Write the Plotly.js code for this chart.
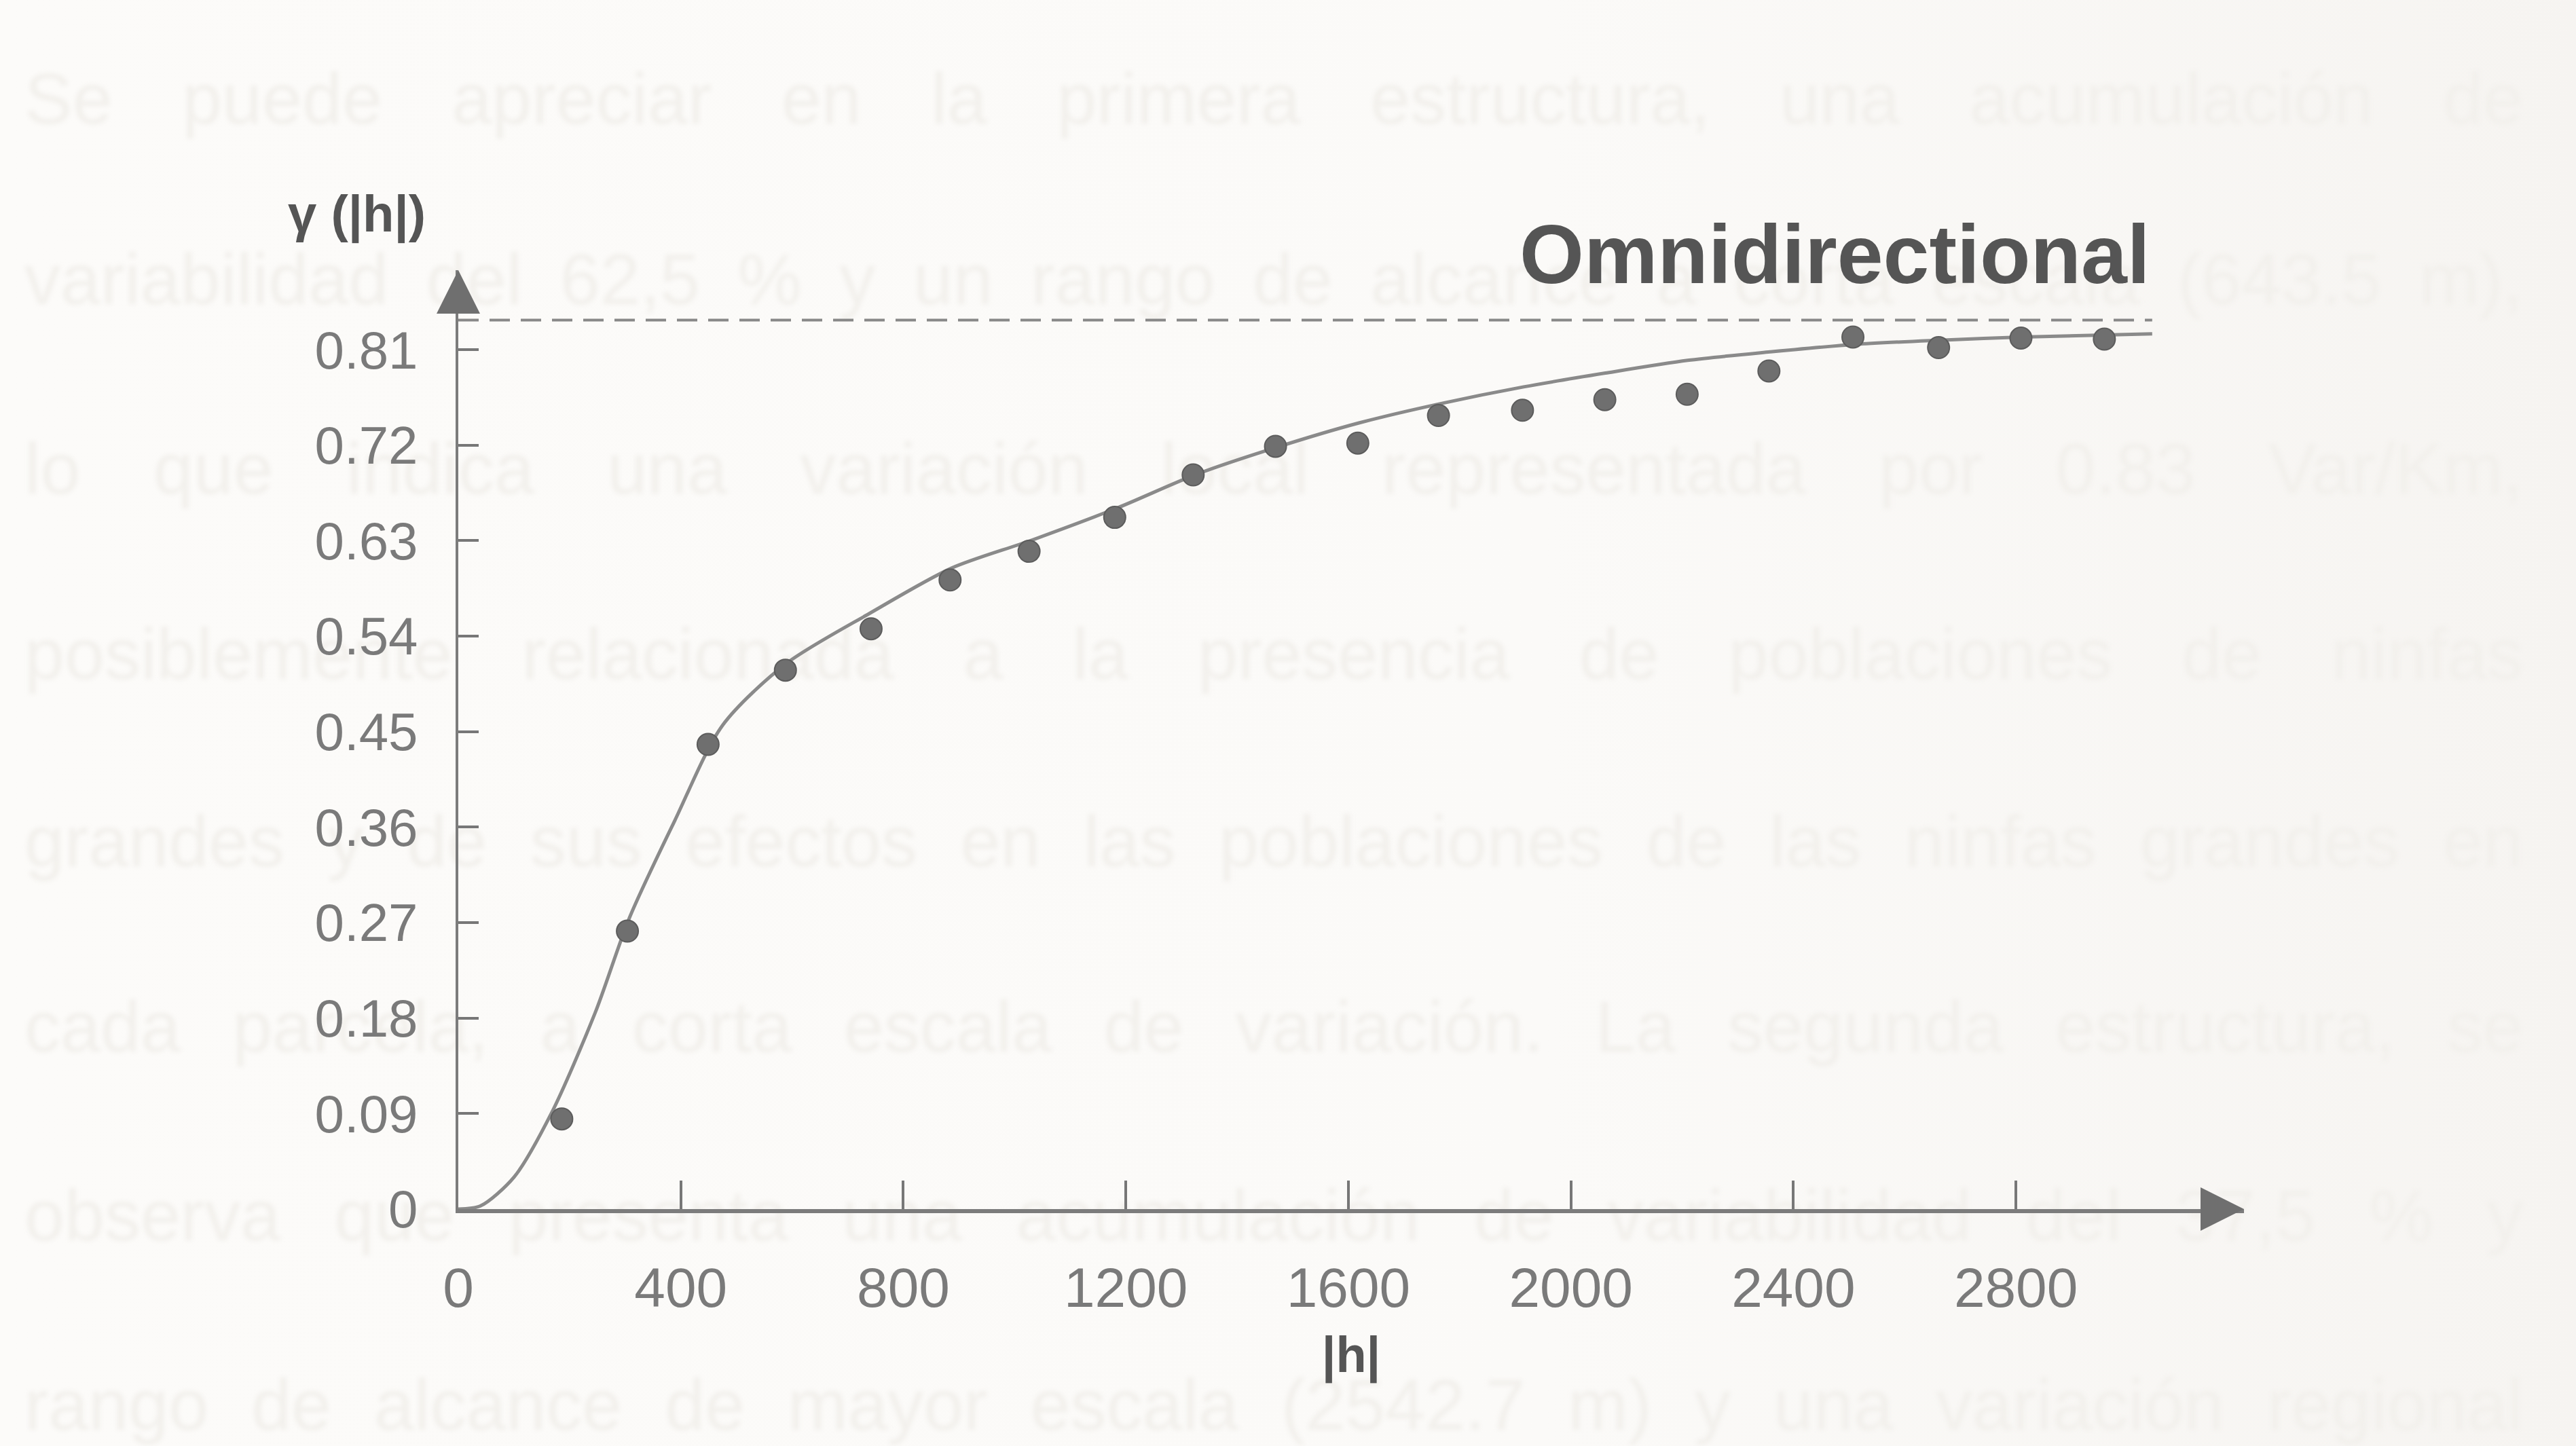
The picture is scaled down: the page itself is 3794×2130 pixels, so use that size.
<!DOCTYPE html>
<html>
<head>
<meta charset="utf-8">
<script src="https://cdn.plot.ly/plotly-3.0.1.min.js"></script>
<style>
  html, body { margin: 0; padding: 0; width: 3794px; height: 2130px; overflow: hidden;
    background: linear-gradient(90deg, #fcfbf9 0%, #fbfaf8 60%, #f6f4f1 100%); }
  #bg { position: absolute; left: 0; top: 0; width: 3794px; height: 2130px; z-index: 0; }
  .ln { position: absolute; left: 36px; width: 3680px; font-family: "Liberation Sans", Arial, sans-serif;
        font-size: 106px; line-height: 120px; color: #f2f0ec; text-align: justify; text-align-last: justify;
        white-space: nowrap; filter: blur(3px); }
  #chart { position: absolute; left: 0; top: 0; width: 3794px; height: 2130px; z-index: 1; }
</style>
</head>
<body>
<div id="bg"></div>
<div id="chart"></div>
<script>
// ---- data ----
const lagH = [186, 304, 449, 588, 742, 884, 1026, 1180, 1321, 1469, 1617, 1762, 1913, 2061, 2209, 2356, 2507, 2661, 2809, 2959];
const gammaExp = [0.085, 0.262, 0.438, 0.508, 0.547, 0.593, 0.620, 0.652, 0.692, 0.719, 0.722, 0.748, 0.753, 0.763, 0.768, 0.790, 0.822, 0.812, 0.821, 0.820];

const modelH = [0, 40, 100, 167, 246, 308, 389, 475, 589, 741, 886, 1028, 1185, 1324, 1471, 1619, 1764, 1915, 2062, 2210, 2358, 2508, 2662, 2810, 3045];
const modelGamma = [0, 0.003, 0.030, 0.090, 0.185, 0.275, 0.366, 0.456, 0.514, 0.562, 0.604, 0.630, 0.661, 0.692, 0.718, 0.741, 0.759, 0.775, 0.788, 0.800, 0.808, 0.815, 0.819, 0.822, 0.825];

const sillH = [0, 3045];
const sillValue = 0.838;

const yTicks = [0, 0.09, 0.18, 0.27, 0.36, 0.45, 0.54, 0.63, 0.72, 0.81];
const yTickText = ["0", "0.09", "0.18", "0.27", "0.36", "0.45", "0.54", "0.63", "0.72", "0.81"];
const xTicks = [0, 400, 800, 1200, 1600, 2000, 2400, 2800];
const xTickText = ["0", "400", "800", "1200", "1600", "2000", "2400", "2800"];

const titleText = "Omnidirectional";
const yTitle = "γ (|h|)";
const xTitle = "|h|";

const pageLines = [
  "Se puede apreciar en la primera estructura, una acumulación de",
  "variabilidad del 62,5 % y un rango de alcance a corta escala (643.5 m),",
  "lo que indica una variación local representada por 0.83 Var/Km,",
  "posiblemente relacionada a la presencia de poblaciones de ninfas",
  "grandes y de sus efectos en las poblaciones de las ninfas grandes en",
  "cada parcela, a corta escala de variación. La segunda estructura, se",
  "observa que presenta una acumulación de variabilidad del 37,5 % y",
  "rango de alcance de mayor escala (2542.7 m) y una variación regional"
];
const pageLineCenters = [145, 411, 690, 963, 1239, 1512, 1790, 2069];

// faint bleed-through page text
const bg = document.getElementById('bg');
pageLines.forEach((t, i) => {
  const d = document.createElement('div');
  d.className = 'ln';
  d.style.top = (pageLineCenters[i] - 60) + 'px';
  d.textContent = t;
  bg.appendChild(d);
});

const grey = '#7a7a7a';
const font = "Liberation Sans, Arial, sans-serif";

const traces = [
  {
    x: sillH, y: [sillValue, sillValue], mode: 'lines', type: 'scatter',
    line: { color: '#888', width: 4, dash: '30px,16px' }, hoverinfo: 'skip', showlegend: false
  },
  {
    x: modelH, y: modelGamma, mode: 'lines', type: 'scatter',
    line: { color: '#8a8a8a', width: 5, shape: 'spline', smoothing: 0.8 }, showlegend: false
  },
  {
    x: lagH, y: gammaExp, mode: 'markers', type: 'scatter',
    marker: { color: '#6f6f6f', size: 32, line: { color: '#5c5c5c', width: 2 } }, showlegend: false
  }
];

const layout = {
  width: 3794, height: 2130,
  margin: { l: 675, r: 489, t: 398, b: 349 },
  paper_bgcolor: 'rgba(0,0,0,0)',
  plot_bgcolor: 'rgba(0,0,0,0)',
  showlegend: false,
  xaxis: {
    range: [0, 3210], showgrid: false, zeroline: false,
    showline: true, linecolor: '#7c7c7c', linewidth: 6,
    ticks: 'inside', ticklen: 42, tickwidth: 4, tickcolor: '#777',
    tickvals: xTicks, ticktext: xTickText,
    tickfont: { family: font, size: 82, color: grey },
    ticklabelstandoff: 40,
    title: { text: '<b>' + xTitle + '</b>', font: { family: font, size: 74, color: '#555' }, standoff: 30 }
  },
  yaxis: {
    range: [0, 0.885], showgrid: false, zeroline: false,
    showline: true, linecolor: '#7c7c7c', linewidth: 4,
    ticks: 'inside', ticklen: 30, tickwidth: 4, tickcolor: '#777',
    tickvals: yTicks, ticktext: yTickText,
    tickfont: { family: font, size: 78, color: grey },
    ticklabelstandoff: 40
  },
  annotations: [
    { text: '<b>' + titleText + '</b>', x: 0.771, y: 1.0166, xref: 'paper', yref: 'paper',
      xanchor: 'center', yanchor: 'middle',
      showarrow: false, font: { family: font, size: 122, color: '#555' } },
    { text: '<b>' + yTitle + '</b>', x: -0.057, y: 1.060, xref: 'paper', yref: 'paper',
      xanchor: 'center', yanchor: 'middle',
      showarrow: false, font: { family: font, size: 76, color: '#555' } },
    // axis arrowheads
    { x: 0, y: 0.885, xref: 'x', yref: 'y', ax: 0, ay: 60, axref: 'pixel', ayref: 'pixel',
      text: '', showarrow: true, arrowhead: 2, arrowsize: 3.2, arrowwidth: 4, arrowcolor: '#6f6f6f', standoff: 0 },
    { x: 3210, y: 0, xref: 'x', yref: 'y', ax: -60, ay: 0, axref: 'pixel', ayref: 'pixel',
      text: '', showarrow: true, arrowhead: 2, arrowsize: 3.2, arrowwidth: 4, arrowcolor: '#6f6f6f', standoff: 0 }
  ]
};

Plotly.newPlot('chart', traces, layout, { staticPlot: true, displayModeBar: false });
</script>
</body>
</html>
